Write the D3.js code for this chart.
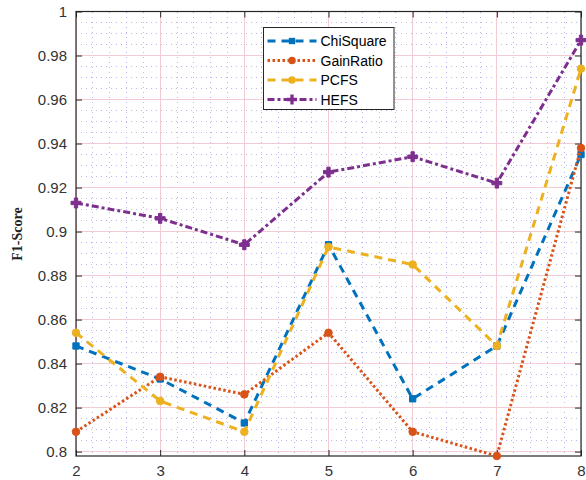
<!DOCTYPE html>
<html>
<head>
<meta charset="UTF-8">
<title>F1-Score</title>
<script src="https://cdn.jsdelivr.net/npm/d3@7"></script>
<style>
  body { margin: 0; background: #fff; }
  .tick-label { font-family: "Liberation Sans", Arial, sans-serif; font-size: 15px; fill: #333; }
  .legend text { font-family: "Liberation Sans", Arial, sans-serif; font-size: 14px; fill: #000; }
  .grid-major { stroke: #f2ccd4; stroke-width: 1; shape-rendering: crispEdges; }
  .grid-minor { stroke: #b8b8f4; stroke-width: 1; stroke-dasharray: 1 4; shape-rendering: crispEdges; }
</style>
</head>
<body>
<div id="root"></div>
<script>
  // data
  let xs = [2, 3, 4, 5, 6, 7, 8]
  let chiSquare = [0.848, 0.833, 0.813, 0.894, 0.824, 0.848, 0.935]
  let gainRatio = [0.809, 0.834, 0.826, 0.854, 0.809, 0.798, 0.938]
  let pcfs = [0.854, 0.823, 0.809, 0.893, 0.885, 0.848, 0.974]
  let hefs = [0.913, 0.906, 0.894, 0.927, 0.934, 0.922, 0.987]
  let seriesNames = ["ChiSquare", "GainRatio", "PCFS", "HEFS"]
  let yTicks = [0.8, 0.82, 0.84, 0.86, 0.88, 0.9, 0.92, 0.94, 0.96, 0.98, 1]

  let series = [
    { name: seriesNames[0], values: chiSquare, color: "#0072BD", dash: "8 6", width: 3, symbol: d3.symbolSquare, size: 40 },
    { name: seriesNames[1], values: gainRatio, color: "#D95319", dash: "2.5 2.5", width: 3, symbol: d3.symbolCircle, size: 45 },
    { name: seriesNames[2], values: pcfs, color: "#EDB120", dash: "8 6", width: 3, symbol: d3.symbolCircle, size: 45 },
    { name: seriesNames[3], values: hefs, color: "#7E2F8E", dash: "7 3 3 3", width: 3, symbol: d3.symbolCross, size: 55 }
  ]

  let width = 586, height = 480
  let margin = { top: 11.5, right: 5, bottom: 24, left: 76 }
  let w = width - margin.left - margin.right
  let h = height - margin.top - margin.bottom

  let svg = d3.select("#root").append("svg").attr("width", width).attr("height", height)
  let g = svg.append("g").attr("transform", "translate(" + margin.left + "," + margin.top + ")")

  let x = d3.scaleLinear().domain([2, 8]).range([0, w])
  let y = d3.scaleLinear().domain([0.798, 1]).range([h, 0])

  // minor grid
  let xMinor = d3.range(2, 8.001, 0.2).filter(v => Math.abs(v - Math.round(v)) > 1e-6)
  let yMinor = d3.range(0.8, 1.0001, 0.005).filter(v => Math.abs(v * 50 - Math.round(v * 50)) > 1e-6)
  g.selectAll(".vminor").data(xMinor).enter().append("line").attr("class", "grid-minor")
    .attr("x1", d => x(d)).attr("x2", d => x(d)).attr("y1", 0).attr("y2", h)
  g.selectAll(".hminor").data(yMinor).enter().append("line").attr("class", "grid-minor")
    .attr("x1", 0).attr("x2", w).attr("y1", d => y(d)).attr("y2", d => y(d))

  // major grid
  g.selectAll(".vmajor").data(xs).enter().append("line").attr("class", "grid-major")
    .attr("x1", d => x(d)).attr("x2", d => x(d)).attr("y1", 0).attr("y2", h)
  g.selectAll(".hmajor").data(yTicks).enter().append("line").attr("class", "grid-major")
    .attr("x1", 0).attr("x2", w).attr("y1", d => y(d)).attr("y2", d => y(d))

  // axes (ticks pointing inward, box on all sides)
  let fmt = d => d3.format("")(+d.toFixed(2))
  let xAxis = d3.axisBottom(x).tickValues(xs).tickSizeInner(-6).tickSizeOuter(0).tickPadding(9).tickFormat(d3.format("d"))
  let yAxis = d3.axisLeft(y).tickValues(yTicks).tickSizeInner(-6).tickSizeOuter(0).tickPadding(9).tickFormat(fmt)
  let xTop = d3.axisTop(x).tickValues(xs).tickSizeInner(-6).tickSizeOuter(0).tickFormat("")
  let yRight = d3.axisRight(y).tickValues(yTicks).tickSizeInner(-6).tickSizeOuter(0).tickFormat("")

  function styleAxis(sel) {
    sel.selectAll("path").remove()
    sel.selectAll("line").attr("stroke", "#262626")
    sel.selectAll("text").attr("class", "tick-label")
  }
  g.append("g").attr("transform", "translate(0," + h + ")").call(xAxis).call(styleAxis)
  g.append("g").call(yAxis).call(styleAxis)
  g.append("g").call(xTop).call(styleAxis)
  g.append("g").attr("transform", "translate(" + w + ",0)").call(yRight).call(styleAxis)
  g.append("rect").attr("x", 0).attr("y", 0).attr("width", w).attr("height", h)
    .attr("fill", "none").attr("stroke", "#262626").attr("stroke-width", 1.2)

  // lines
  let line = d3.line().x((d, i) => x(xs[i])).y(d => y(d))
  let lines = g.append("g")
  series.forEach(s => {
    lines.append("path").datum(s.values).attr("d", line)
      .attr("fill", "none").attr("stroke", s.color).attr("stroke-width", s.width)
      .attr("stroke-dasharray", s.dash)
    lines.selectAll(null).data(s.values).enter().append("path")
      .attr("transform", (d, i) => "translate(" + x(xs[i]) + "," + y(d) + ")")
      .attr("d", d3.symbol().type(s.symbol).size(s.size))
      .attr("fill", s.color).attr("stroke", s.color).attr("stroke-width", 1)
  })

  // y label
  svg.append("text").attr("transform", "translate(22,234) rotate(-90)")
    .attr("text-anchor", "middle")
    .style("font-family", "'Liberation Serif', 'Times New Roman', serif")
    .style("font-weight", "bold").style("font-size", "14px").style("fill", "#222")
    .text("F1-Score")

  // legend
  let lg = svg.append("g").attr("class", "legend").attr("transform", "translate(263.5,27.5)")
  lg.append("rect").attr("width", 130.5).attr("height", 82).attr("fill", "#fff").attr("stroke", "#262626").attr("stroke-width", 1)
  series.forEach((s, i) => {
    let yy = 13.5 + i * 19.5
    lg.append("line").attr("x1", 4).attr("x2", 53).attr("y1", yy).attr("y2", yy)
      .attr("stroke", s.color).attr("stroke-width", s.width).attr("stroke-dasharray", s.dash)
    lg.append("path").attr("transform", "translate(28.5," + yy + ")")
      .attr("d", d3.symbol().type(s.symbol).size(s.size)).attr("fill", s.color)
    lg.append("text").attr("x", 57).attr("y", yy + 5).text(s.name)
  })
</script>
</body>
</html>
